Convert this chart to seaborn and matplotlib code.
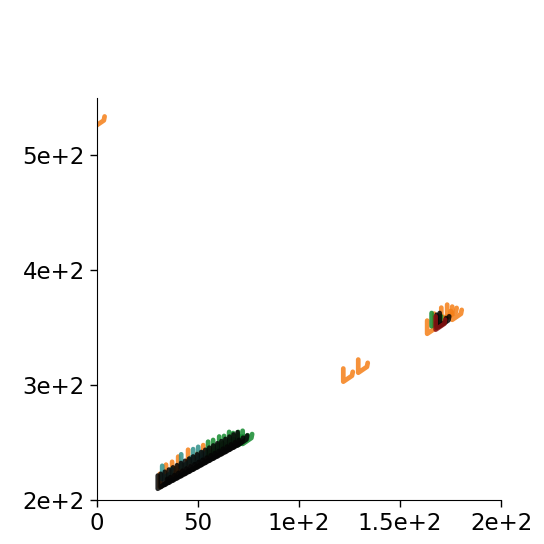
import matplotlib
matplotlib.use("Agg")
import matplotlib.pyplot as plt
import numpy as np
import pandas as pd
import seaborn as sns
from matplotlib.path import Path
from matplotlib.ticker import FuncFormatter

# values
orange_x = [1.5, 124.3, 131.7, 165.8, 169.3, 172.8, 175.7, 178.2,
            33.5, 36.6, 39.6, 42.6, 47.5, 55.0]
orange_y = [531.0, 308.7, 316.5, 350.4, 356.5, 361.7, 364.3, 362.6,
            217.0, 225.0, 227.5, 232.0, 238.0, 242.0]

teal_x = [34.7, 44.1, 50.0, 52.5]
teal_y = [224.0, 234.0, 238.5, 240.5]

green_x = [57.4, 59.9, 62.9, 65.3, 67.8, 69.8, 72.3, 74.5, 168.0]
green_y = [245.0, 246.5, 249.5, 250.0, 253.5, 252.5, 253.5, 254.5, 357.0]

black_x = [32.5, 34, 36, 38, 40, 42, 44, 46, 48, 50, 52, 54, 56, 58, 60,
           62, 64, 66, 68, 70, 72, 170.5, 172.0]
black_y = [215.5, 217.0, 218.8, 220.7, 222.6, 224.5, 226.4, 228.3, 230.2,
           232.1, 234.0, 236.0, 237.9, 239.8, 241.7, 243.6, 245.5, 247.4,
           249.4, 251.3, 253.2, 355.5, 357.0]

darkred_x = [170.0]
darkred_y = [354.0]

groups = ["a", "b", "c", "d", "e"]
colors = ["#f57f17", "#2f8f8a", "#148a2e", "#050505", "#8b1010"]

df = pd.concat([
    pd.DataFrame({"x": orange_x, "y": orange_y, "g": "a"}),
    pd.DataFrame({"x": teal_x, "y": teal_y, "g": "b"}),
    pd.DataFrame({"x": green_x, "y": green_y, "g": "c"}),
    pd.DataFrame({"x": black_x, "y": black_y, "g": "d"}),
    pd.DataFrame({"x": darkred_x, "y": darkred_y, "g": "e"}),
], ignore_index=True)


def fmt(v, pos):
    if v == 0:
        return "0"
    if abs(v) < 100:
        return f"{v:g}"
    exp = int(np.floor(np.log10(abs(v))))
    return f"{v / 10 ** exp:g}e+{exp}"


sns.set_style("ticks")

# check shaped marker
tick_mark = Path([(-0.36, 0.5), (-0.36, -0.5), (0.3, -0.05), (0.36, 0.25)],
                 [Path.MOVETO, Path.LINETO, Path.LINETO, Path.LINETO])

fig = plt.figure(figsize=(5.44, 5.44), dpi=100)
ax = fig.add_axes([0.178, 0.081, 0.743, 0.739])

sns.scatterplot(data=df, x="x", y="y", hue="g", hue_order=groups,
                palette=dict(zip(groups, colors)), marker=tick_mark, s=90,
                alpha=0.85, legend=False, ax=ax)

# draw the marks as open strokes
for coll in ax.collections:
    fc = coll.get_facecolors()
    coll.set_facecolors("none")
    coll.set_edgecolors(fc)
    coll.set_linewidths(3.4)
    coll.set_joinstyle("round")
    coll.set_capstyle("round")

ax.set_xlim(0, 200)
ax.set_ylim(200, 550)
ax.set_xticks([0, 50, 100, 150, 200])
ax.set_yticks([200, 300, 400, 500])
ax.xaxis.set_major_formatter(FuncFormatter(fmt))
ax.yaxis.set_major_formatter(FuncFormatter(fmt))
ax.tick_params(labelsize=16.5, length=5, width=1, colors="black")
for sp in ax.spines.values():
    sp.set_color("black")
ax.set_xlabel("")
ax.set_ylabel("")
sns.despine(ax=ax)

fig.savefig("out.png", dpi=100)
